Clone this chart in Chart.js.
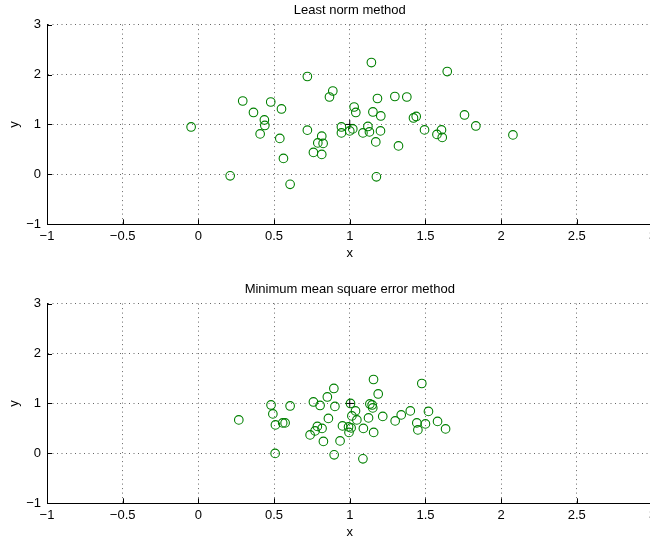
<!DOCTYPE html>
<html>
<head>
<meta charset="utf-8">
<script src="https://cdn.jsdelivr.net/npm/chart.js@4.4.0/dist/chart.umd.min.js"></script>
<style>
  html, body { margin: 0; padding: 0; background: #fff; }
  #wrap { position: relative; width: 650px; height: 537px; overflow: hidden; background: #fff; }
  canvas { position: absolute; left: 0; }
  #leastNorm { top: 0; }
  #mmse { top: 279px; }
</style>
</head>
<body>
<div id="wrap">
  <canvas id="leastNorm" width="700" height="268"></canvas>
  <canvas id="mmse" width="700" height="268"></canvas>
</div>
<script>
/* estimates */
let leastNormX = [-0.048, 0.210, 0.293, 0.364, 0.478, 0.436, 0.439, 0.408, 0.549, 0.538,
                  0.562, 0.606, 0.720, 0.720, 0.760, 0.789, 0.815, 0.815, 0.824, 0.888,
                  0.866, 0.945, 0.945, 1.000, 1.020, 1.029, 1.040, 1.143, 1.183, 1.153,
                  1.205, 1.120, 1.087, 1.130, 1.203, 1.172, 1.322, 1.176, 1.298, 1.377,
                  1.644, 1.421, 1.439, 1.494, 1.576, 1.606, 1.611, 1.758, 1.833, 2.078];
let leastNormY = [0.95, -0.03, 1.47, 1.24, 1.45, 1.09, 0.98, 0.81, 1.31, 0.72,
                  0.32, -0.20, 1.96, 0.886, 0.44, 0.63, 0.766, 0.40, 0.62, 1.67,
                  1.55, 0.95, 0.83, 0.87, 0.91, 1.35, 1.24, 2.24, 1.52, 1.25,
                  1.17, 0.96, 0.83, 0.85, 0.87, 0.65, 0.57, -0.05, 1.56, 1.55,
                  2.06, 1.13, 1.16, 0.89, 0.80, 0.89, 0.74, 1.19, 0.97, 0.79];

let mmseX = [0.267, 0.480, 0.492, 0.509, 0.557, 0.573, 0.606, 0.507, 0.760, 0.804,
             0.786, 0.771, 0.738, 0.826, 0.852, 0.895, 0.902, 0.859, 0.817, 0.897,
             0.936, 1.157, 1.188, 1.005, 1.038, 1.014, 1.047, 0.952, 0.992, 1.009,
             0.995, 1.090, 1.124, 1.133, 1.148, 1.152, 1.158, 1.218, 1.300, 1.340,
             1.400, 1.443, 1.450, 1.476, 1.087, 1.520, 1.500, 1.580, 1.633];
let mmseY = [0.67, 0.97, 0.79, 0.57, 0.61, 0.61, 0.95, 0.00, 1.03, 0.96,
             0.54, 0.45, 0.37, 0.24, 1.13, 1.30, 0.94, 0.70, 0.50, -0.03,
             0.25, 1.48, 1.19, 1.00, 0.85, 0.75, 0.67, 0.55, 0.53, 0.51,
             0.42, 0.50, 0.71, 0.99, 0.97, 0.91, 0.42, 0.74, 0.65, 0.77,
             0.85, 0.61, 0.47, 1.40, -0.11, 0.84, 0.59, 0.64, 0.49];

// the true point, drawn as a black +
let trueX = [1];
let trueY = [1];

let xTickVals = [-1, -0.5, 0, 0.5, 1, 1.5, 2, 2.5, 3];
let yTickVals = [-1, 0, 1, 2, 3];

const FONT = { family: "'Liberation Sans', Arial, Helvetica, sans-serif", size: 13, weight: 'normal' };

function toPoints(xs, ys){
    return xs.map((x, i) => ({ x: x, y: ys[i] }));
}

// MATLAB style labels use a real minus sign
function fmt(v){
    return v < 0 ? '\u2212' + Math.abs(v) : String(v);
}

/* short tick marks pointing into the plot, like MATLAB */
const innerTicks = {
    id: 'innerTicks',
    afterDraw(chart){
        const ctx = chart.ctx;
        const xs = chart.scales.x, ys = chart.scales.y;
        const a = chart.chartArea;
        ctx.save();
        ctx.strokeStyle = '#000';
        ctx.lineWidth = 1;
        ctx.beginPath();
        xs.ticks.forEach(t => {
            const px = Math.round(xs.getPixelForValue(t.value)) + 0.5;
            ctx.moveTo(px, a.bottom);
            ctx.lineTo(px, a.bottom - 5);
        });
        ys.ticks.forEach(t => {
            const py = Math.round(ys.getPixelForValue(t.value)) + 0.5;
            ctx.moveTo(a.left, py);
            ctx.lineTo(a.left + 5, py);
        });
        ctx.stroke();
        ctx.restore();
    }
};

function makeConfig(title, xs, ys){
    return {
        type: 'scatter',
        data: {
            datasets: [{
                data: toPoints(xs, ys),
                pointStyle: 'circle',
                pointRadius: 4.3,
                borderWidth: 1.1,
                borderColor: 'rgb(0, 128, 0)',
                backgroundColor: 'rgba(0, 0, 0, 0)'
            }, {
                data: toPoints(trueX, trueY),
                pointStyle: 'cross',
                pointRadius: 4.5,
                borderWidth: 1,
                borderColor: '#000',
                backgroundColor: '#000'
            }]
        },
        options: {
            responsive: false,
            animation: false,
            events: [],
            layout: { padding: { left: 0, right: 47.5, top: 0, bottom: 0 } },
            plugins: {
                legend: { display: false },
                tooltip: { enabled: false },
                title: {
                    display: true,
                    text: title,
                    fullSize: false,
                    color: '#000',
                    font: FONT,
                    padding: { top: 3, bottom: 6 }
                }
            },
            scales: {
                x: {
                    type: 'linear',
                    min: -1,
                    max: 3,
                    afterBuildTicks: s => { s.ticks = xTickVals.map(v => ({ value: v })); },
                    afterFit: s => { s.height = 43.7; },
                    grid: { color: 'rgba(0,0,0,0.6)', lineWidth: 1, drawTicks: false },
                    border: { display: true, color: '#000', width: 1, dash: [1, 3.5] },
                    ticks: { padding: 4, color: '#000', font: FONT, maxRotation: 0, autoSkip: false,
                             callback: v => fmt(v) },
                    title: { display: true, text: 'x', color: '#000', font: FONT,
                             padding: { top: 0, bottom: 7 } }
                },
                y: {
                    type: 'linear',
                    min: -1,
                    max: 3,
                    afterBuildTicks: s => { s.ticks = yTickVals.map(v => ({ value: v })); },
                    afterFit: s => { s.width = 47; },
                    grid: { color: 'rgba(0,0,0,0.6)', lineWidth: 1, drawTicks: false },
                    border: { display: true, color: '#000', width: 1, dash: [1, 3.5] },
                    ticks: { padding: 6, color: '#000', font: FONT, callback: v => fmt(v) },
                    title: { display: true, text: 'y', color: '#000', font: FONT,
                             padding: { top: 7, bottom: 0 } }
                }
            }
        },
        plugins: [innerTicks]
    };
}

let leastNormChart = new Chart(
    document.getElementById('leastNorm').getContext('2d'),
    makeConfig('Least norm method', leastNormX, leastNormY)
);

let mmseChart = new Chart(
    document.getElementById('mmse').getContext('2d'),
    makeConfig('Minimum mean square error method', mmseX, mmseY)
);
</script>
</body>
</html>
